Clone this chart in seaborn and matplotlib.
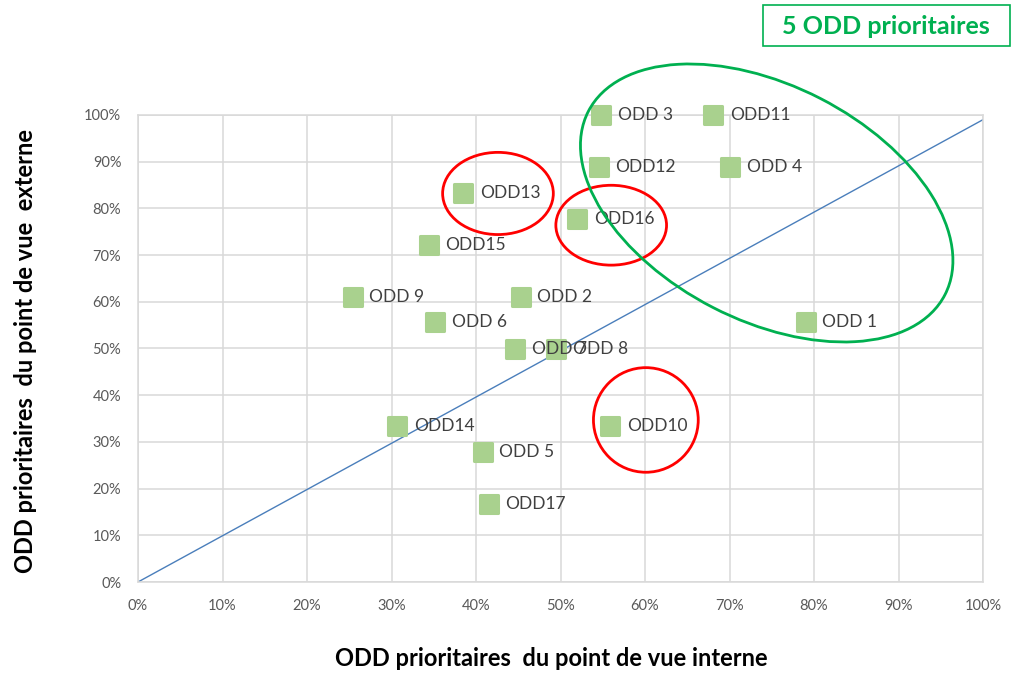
import matplotlib
matplotlib.use("Agg")
import matplotlib.pyplot as plt
import seaborn as sns
import pandas as pd
from matplotlib.patches import Ellipse, Rectangle
from matplotlib.markers import MarkerStyle
from matplotlib.ticker import PercentFormatter, MultipleLocator
from matplotlib.transforms import Affine2D

# Données
odd_labels = ["ODD 1", "ODD 2", "ODD 3", "ODD 4", "ODD 5", "ODD 6", "ODD 7", "ODD 8", "ODD 9",
              "ODD10", "ODD11", "ODD12", "ODD13", "ODD14", "ODD15", "ODD16", "ODD17"]
interne = [0.790, 0.453, 0.548, 0.701, 0.408, 0.352, 0.446, 0.495, 0.254,
           0.559, 0.681, 0.545, 0.385, 0.307, 0.344, 0.520, 0.415]
externe = [0.556, 0.611, 1.000, 0.889, 0.278, 0.556, 0.500, 0.500, 0.611,
           0.333, 1.000, 0.889, 0.833, 0.333, 0.722, 0.778, 0.167]

# Diagonale
diag_x = [0, 1]
diag_y = [0, 0.99]

df = pd.DataFrame({"odd": odd_labels, "interne": interne, "externe": externe})

sns.set_style("white")
plt.rcParams['font.family'] = ['Lato', 'DejaVu Sans']

fig = plt.figure(figsize=(10.13, 6.73), dpi=100)
ax = fig.add_axes([138 / 1013, 91 / 673, 845 / 1013, 467 / 673])

# Ligne diagonale
sns.lineplot(x=diag_x, y=diag_y, ax=ax, color='#4a7ebb', linewidth=1, zorder=2)

# Points (carrés arrondis)
pts = sns.scatterplot(data=df, x="interne", y="externe", ax=ax,
                      marker=MarkerStyle('s', joinstyle='round'), s=150,
                      color='#a9d18e', edgecolor='#a9d18e', linewidth=2.2, zorder=3)
for coll in ax.collections:
    coll.set_clip_on(False)

# Étiquettes des points
for name, xv, yv in zip(odd_labels, interne, externe):
    ax.annotate(name, (xv, yv), xytext=(12, 0), textcoords='offset points',
                va='center', ha='left', fontsize=12.5, color='#404040', zorder=4)

# Axes
ax.set_xlim(0, 1)
ax.set_ylim(0, 1)
ax.xaxis.set_major_locator(MultipleLocator(0.1))
ax.yaxis.set_major_locator(MultipleLocator(0.1))
ax.xaxis.set_major_formatter(PercentFormatter(1.0, decimals=0))
ax.yaxis.set_major_formatter(PercentFormatter(1.0, decimals=0))
ax.grid(True, color='#d9d9d9', linewidth=1.1)
ax.set_axisbelow(True)
for sp in ax.spines.values():
    sp.set_color('#d9d9d9')
    sp.set_linewidth(1.1)
ax.tick_params(length=0, pad=12, labelsize=10.5, labelcolor='#595959')

ax.set_xlabel("ODD prioritaires  du point de vue interne", fontsize=17, fontweight='bold', color='#000000')
ax.set_ylabel("ODD prioritaires  du point de vue  externe", fontsize=17, fontweight='bold', color='#000000')
ax.xaxis.set_label_coords((551 - 138) / 845, -0.14)
ax.yaxis.set_label_coords(-0.12, 0.494)

# Cercles rouges
red_circles = [((0.426, 0.832), 0.131, 0.176),
               ((0.560, 0.764), 0.131, 0.171),
               ((0.601, 0.347), 0.124, 0.224)]
for center, w, h in red_circles:
    ax.add_patch(Ellipse(center, w, h, fill=False, edgecolor='#ff0000', linewidth=2, zorder=5))

# Ellipse verte inclinée (dimensions en pixels de l'axe)
green_tr = Affine2D().scale(1 / 845, 1 / 467).translate(0.744, 0.8116) + ax.transData
ax.add_patch(Ellipse((0, 0), 401, 235, angle=-27.2, fill=False, edgecolor='#00b050',
                     linewidth=2, transform=green_tr, clip_on=False, zorder=5))

# Encadré "5 ODD prioritaires"
fig.patches.append(Rectangle((763 / 1013, (673 - 46) / 673), 247 / 1013, 41 / 673,
                             transform=fig.transFigure, fill=False, edgecolor='#00b050',
                             linewidth=1.2))
fig.text(886 / 1013, (673 - 26) / 673, "5 ODD prioritaires", ha='center', va='center',
         fontsize=18, fontweight='bold', color='#00b050')

plt.savefig("out.png", dpi=100)
